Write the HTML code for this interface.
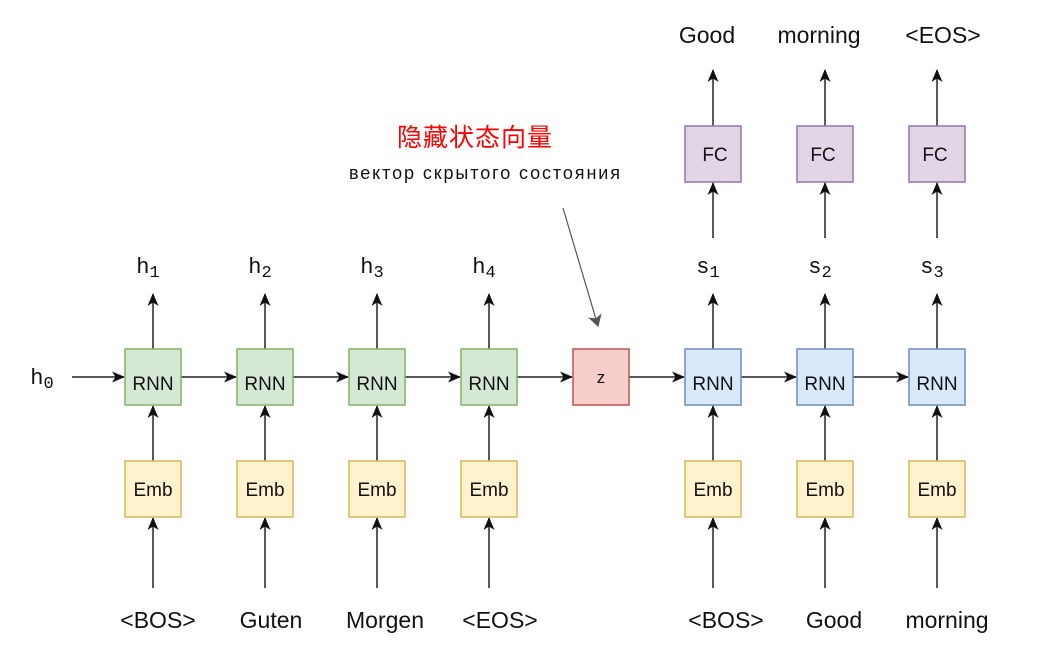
<!DOCTYPE html>
<html><head><meta charset="utf-8"><style>
body{margin:0;background:#fff}
svg text{font-family:"Liberation Sans","Noto Sans CJK SC",sans-serif;fill:#111}
.m{font-family:"Liberation Mono",monospace}
</style></head><body>
<svg width="1064" height="666" viewBox="0 0 1064 666" xmlns="http://www.w3.org/2000/svg">
<defs><marker id="a" markerWidth="14" markerHeight="14" refX="12" refY="7" orient="auto" markerUnits="userSpaceOnUse"><path d="M0,1.5 L13,7 L0,12.5 L3.5,7 Z" fill="#111"/></marker>
<marker id="g" markerWidth="12" markerHeight="16" refX="11" refY="8" orient="auto" markerUnits="userSpaceOnUse"><path d="M0,1 L12,8 L0,15 L3,8 Z" fill="#555"/></marker></defs>
<g stroke="#222" stroke-width="1.5" fill="none" marker-end="url(#a)">
<line x1="72" y1="377" x2="124" y2="377"/>
<line x1="181" y1="377" x2="236" y2="377"/>
<line x1="293" y1="377" x2="348" y2="377"/>
<line x1="405" y1="377" x2="460" y2="377"/>
<line x1="517" y1="377" x2="572" y2="377"/>
<line x1="629" y1="377" x2="684" y2="377"/>
<line x1="741" y1="377" x2="796" y2="377"/>
<line x1="853" y1="377" x2="908" y2="377"/>
<line x1="153" y1="588" x2="153" y2="518"/><line x1="153" y1="461" x2="153" y2="406"/><line x1="153" y1="349" x2="153" y2="294"/>
<line x1="265" y1="588" x2="265" y2="518"/><line x1="265" y1="461" x2="265" y2="406"/><line x1="265" y1="349" x2="265" y2="294"/>
<line x1="377" y1="588" x2="377" y2="518"/><line x1="377" y1="461" x2="377" y2="406"/><line x1="377" y1="349" x2="377" y2="294"/>
<line x1="489" y1="588" x2="489" y2="518"/><line x1="489" y1="461" x2="489" y2="406"/><line x1="489" y1="349" x2="489" y2="294"/>
<line x1="713" y1="588" x2="713" y2="518"/><line x1="713" y1="461" x2="713" y2="406"/><line x1="713" y1="349" x2="713" y2="294"/><line x1="713" y1="238" x2="713" y2="183"/><line x1="713" y1="126" x2="713" y2="70"/>
<line x1="825" y1="588" x2="825" y2="518"/><line x1="825" y1="461" x2="825" y2="406"/><line x1="825" y1="349" x2="825" y2="294"/><line x1="825" y1="238" x2="825" y2="183"/><line x1="825" y1="126" x2="825" y2="70"/>
<line x1="937" y1="588" x2="937" y2="518"/><line x1="937" y1="461" x2="937" y2="406"/><line x1="937" y1="349" x2="937" y2="294"/><line x1="937" y1="238" x2="937" y2="183"/><line x1="937" y1="126" x2="937" y2="70"/>
</g>
<line x1="563" y1="208" x2="598" y2="326" stroke="#555" stroke-width="1.2" marker-end="url(#g)"/>
<g stroke-width="1.5">
<g fill="#d5e8d4" stroke="#82b366">
<rect x="125" y="349" width="56" height="56"/><rect x="237" y="349" width="56" height="56"/><rect x="349" y="349" width="56" height="56"/><rect x="461" y="349" width="56" height="56"/></g>
<g fill="#dae8fc" stroke="#6c8ebf">
<rect x="685" y="349" width="56" height="56"/><rect x="797" y="349" width="56" height="56"/><rect x="909" y="349" width="56" height="56"/></g>
<rect x="573" y="349" width="56" height="56" fill="#f8cecc" stroke="#b85450"/>
<g fill="#fff2cc" stroke="#d6b656">
<rect x="125" y="461" width="56" height="56"/><rect x="237" y="461" width="56" height="56"/><rect x="349" y="461" width="56" height="56"/><rect x="461" y="461" width="56" height="56"/><rect x="685" y="461" width="56" height="56"/><rect x="797" y="461" width="56" height="56"/><rect x="909" y="461" width="56" height="56"/></g>
<g fill="#e1d5e7" stroke="#9673a6">
<rect x="685" y="126" width="56" height="56"/><rect x="797" y="126" width="56" height="56"/><rect x="909" y="126" width="56" height="56"/></g>
</g>
<g font-size="19" text-anchor="middle">
<text x="153" y="390">RNN</text><text x="265" y="390">RNN</text><text x="377" y="390">RNN</text><text x="489" y="390">RNN</text>
<text x="713" y="390">RNN</text><text x="825" y="390">RNN</text><text x="937" y="390">RNN</text>
<text x="601" y="383" font-size="17">z</text>
<text x="153" y="496">Emb</text><text x="265" y="496">Emb</text><text x="377" y="496">Emb</text><text x="489" y="496">Emb</text>
<text x="713" y="496">Emb</text><text x="825" y="496">Emb</text><text x="937" y="496">Emb</text>
<text x="715" y="161">FC</text><text x="823" y="161">FC</text><text x="935" y="161">FC</text>
</g>
<g font-size="23" text-anchor="middle">
<text x="158" y="628">&lt;BOS&gt;</text><text x="271" y="628">Guten</text><text x="385" y="628">Morgen</text><text x="500" y="628">&lt;EOS&gt;</text>
<text x="726" y="628">&lt;BOS&gt;</text><text x="834" y="628">Good</text><text x="947" y="628">morning</text>
<text x="707" y="43">Good</text><text x="819" y="43">morning</text><text x="943" y="43">&lt;EOS&gt;</text>
</g>
<g class="m" font-size="22" text-anchor="middle">
<text x="148" y="273" class="m">h<tspan font-size="17" dy="4">1</tspan></text>
<text x="260" y="273" class="m">h<tspan font-size="17" dy="4">2</tspan></text>
<text x="372" y="273" class="m">h<tspan font-size="17" dy="4">3</tspan></text>
<text x="484" y="273" class="m">h<tspan font-size="17" dy="4">4</tspan></text>
<text x="708" y="273" class="m">s<tspan font-size="17" dy="4">1</tspan></text>
<text x="820" y="273" class="m">s<tspan font-size="17" dy="4">2</tspan></text>
<text x="932" y="273" class="m">s<tspan font-size="17" dy="4">3</tspan></text>
<text x="42" y="384" class="m">h<tspan font-size="17" dy="4">0</tspan></text>
</g>
<text x="397" y="146" font-size="25" textLength="155" style="fill:#f00">隐藏状态向量</text>
<text x="349" y="179" font-size="18" textLength="271">вектор скрытого состояния</text>
</svg>
</body></html>
